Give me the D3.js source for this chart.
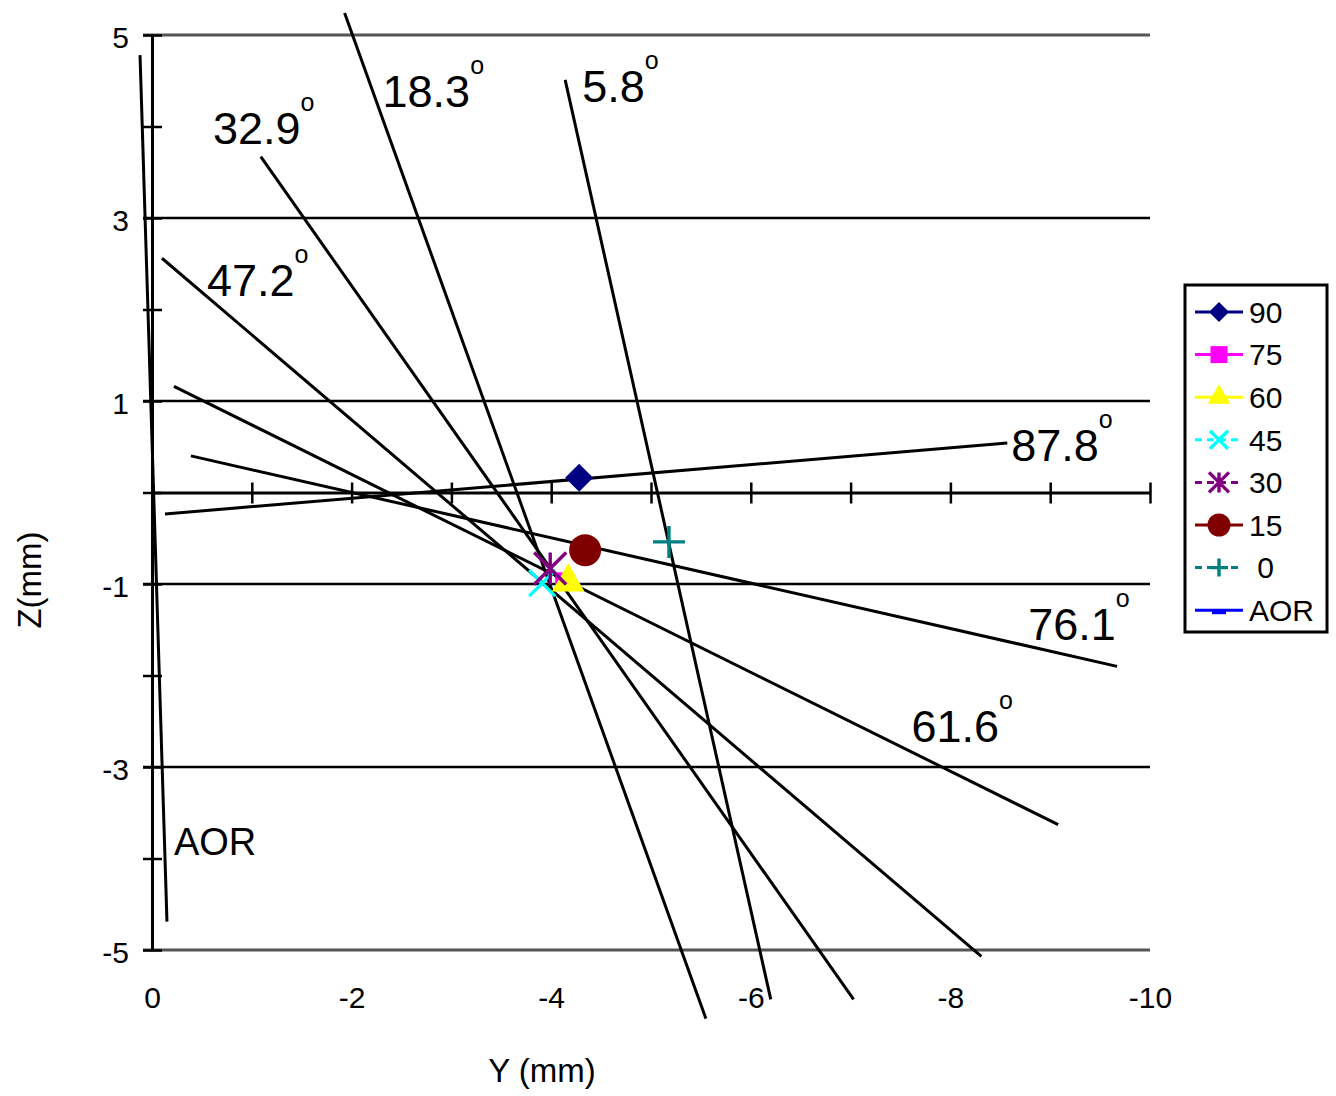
<!DOCTYPE html>
<html>
<head>
<meta charset="utf-8">
<script src="https://cdn.jsdelivr.net/npm/d3@7"></script>
<style>
  body { margin: 0; background: #fff; }
  svg { font-family: "Liberation Sans", Arial, sans-serif; }
</style>
</head>
<body>
<div id="chart"></div>
<script>
// Series shown in the legend (marker points)
let seriesNames = ["90", "75", "60", "45", "30", "15", " 0", "AOR"];
let seriesColors = ["#000080", "#ff00ff", "#ffff00", "#00ffff", "#800080", "#800000", "#008080", "#0000ff"];
let seriesShapes = ["diamond", "square", "triangle", "x", "star", "circle", "plus", "dash"];
let seriesDashed = [false, false, false, true, true, false, true, false];
let pointY = [-4.28, -4.12, -4.17, -3.91, -3.99, -4.34, -5.18, null];
let pointZ = [0.16, -0.96, -0.98, -0.99, -0.83, -0.63, -0.54, null];

// Fitted lines (start and end points, Y / Z in mm)
let lineNames = ["AOR", "87.8", "76.1", "61.6", "47.2", "32.9", "18.3", "5.8"];
let lineY0 = [0.12, -0.13, -0.39, -0.22, -0.10, -1.09, -1.93, -4.14];
let lineZ0 = [4.78, -0.235, 0.40, 1.16, 2.56, 3.67, 5.24, 4.51];
let lineY1 = [-0.15, -8.57, -9.67, -9.08, -8.31, -7.03, -5.55, -6.20];
let lineZ1 = [-4.69, 0.54, -1.90, -3.63, -5.07, -5.54, -5.75, -5.54];

// Where each line's label sits (start of text, baseline)
let labelY = [-0.22, -8.61, -8.78, -7.61, -0.55, -0.61, -2.31, -4.31];
let labelZ = [-3.96, 0.34, -1.61, -2.73, 2.15, 3.81, 4.21, 4.27];

// Axis ticks
let zTicks = [5, 4, 3, 2, 1, 0, -1, -2, -3, -4, -5];
let zMajor = [5, 3, 1, -1, -3, -5];
let yTicks = [0, -1, -2, -3, -4, -5, -6, -7, -8, -9, -10];
let yLabels = [0, -2, -4, -6, -8, -10];

let width = 1336, height = 1096;

let svg = d3.select("#chart").append("svg")
    .attr("width", width)
    .attr("height", height);

let x = d3.scaleLinear().domain([0, -10]).range([152, 1150]);
let y = d3.scaleLinear().domain([-5, 5]).range([950, 35]);

// plain hyphen for negative numbers, like the original
let plain = d => String(d);

// Horizontal gridlines
svg.append("g").selectAll("line")
    .data(zMajor)
    .enter().append("line")
    .attr("x1", x(0) - 9)
    .attr("x2", x(-10))
    .attr("y1", d => y(d))
    .attr("y2", d => y(d))
    .attr("stroke", d => Math.abs(d) === 5 ? "#555" : "#000")
    .attr("stroke-width", d => Math.abs(d) === 5 ? 3.2 : 2.6);

// Vertical axis (ticks cross the line)
let yAxis = svg.append("g")
    .attr("transform", "translate(" + x(0) + ",0)")
    .call(d3.axisLeft(y)
        .tickValues(zTicks)
        .tickSize(9)
        .tickSizeOuter(0)
        .tickPadding(14)
        .tickFormat(d => zMajor.includes(d) ? plain(d) : ""));
yAxis.select(".domain").attr("stroke-width", 3);
yAxis.selectAll(".tick line").attr("x1", 10).attr("stroke-width", 2.5);
yAxis.selectAll(".tick text")
    .attr("font-size", 30)
    .attr("dy", "0.4em")
    .attr("font-family", "Liberation Sans, Arial, sans-serif");

// Horizontal axis through Z = 0
let xAxis = svg.append("g")
    .attr("transform", "translate(0," + y(0) + ")")
    .call(d3.axisBottom(x)
        .tickValues(yTicks)
        .tickSize(11)
        .tickSizeOuter(0)
        .tickFormat(""));
xAxis.select(".domain").attr("stroke-width", 3);
xAxis.selectAll(".tick line").attr("y1", -10).attr("stroke-width", 2.5);

// Tick labels for Y sit below the plot
let xLabels = svg.append("g")
    .attr("transform", "translate(0," + y(-5) + ")")
    .call(d3.axisBottom(x)
        .tickValues(yLabels)
        .tickSize(0)
        .tickPadding(37)
        .tickFormat(plain));
xLabels.select(".domain").remove();
xLabels.selectAll(".tick text")
    .attr("font-size", 30)
    .attr("font-family", "Liberation Sans, Arial, sans-serif");

// Axis titles
svg.append("text")
    .attr("x", 542)
    .attr("y", 1082)
    .attr("text-anchor", "middle")
    .attr("font-size", 33)
    .text("Y (mm)");

svg.append("text")
    .attr("transform", "translate(41,580) rotate(-90)")
    .attr("text-anchor", "middle")
    .attr("font-size", 33)
    .text("Z(mm)");

// Fitted lines
let lineData = lineNames.map((name, i) => ({
    name: name, y0: lineY0[i], z0: lineZ0[i], y1: lineY1[i], z1: lineZ1[i],
    ly: labelY[i], lz: labelZ[i]
}));

svg.append("g").selectAll("line")
    .data(lineData)
    .enter().append("line")
    .attr("x1", d => x(d.y0))
    .attr("y1", d => y(d.z0))
    .attr("x2", d => x(d.y1))
    .attr("y2", d => y(d.z1))
    .attr("stroke", "#000")
    .attr("stroke-width", 3);

// Line labels with a raised degree mark
let labels = svg.append("g").selectAll("text")
    .data(lineData)
    .enter().append("text")
    .attr("x", d => x(d.ly))
    .attr("y", d => y(d.lz))
    .attr("font-size", d => d.name === "AOR" ? 38 : 45)
    .attr("fill", "#000");
labels.append("tspan").text(d => d.name);
labels.filter(d => d.name !== "AOR").append("tspan")
    .attr("font-size", 25)
    .attr("dx", 0)
    .attr("dy", -33)
    .text("o");

// Marker drawing helper
function drawMarker(g, shape, color, s) {
    if (shape === "diamond") {
        g.append("path")
            .attr("d", d3.symbol(d3.symbolSquare, s * s / 2)())
            .attr("transform", "rotate(45)")
            .attr("fill", color);
    } else if (shape === "square") {
        g.append("path")
            .attr("d", d3.symbol(d3.symbolSquare, s * s)())
            .attr("fill", color);
    } else if (shape === "triangle") {
        g.append("path")
            .attr("d", d3.symbol(d3.symbolTriangle, s * s * 0.45)())
            .attr("fill", color);
    } else if (shape === "circle") {
        g.append("path")
            .attr("d", d3.symbol(d3.symbolCircle, Math.PI * s * s / 4)())
            .attr("fill", color);
    } else if (shape === "x" || shape === "star" || shape === "plus") {
        let h = s / 2;
        let p = d3.path();
        if (shape !== "plus") {
            p.moveTo(-h, -h); p.lineTo(h, h);
            p.moveTo(-h, h); p.lineTo(h, -h);
        }
        if (shape !== "x") {
            p.moveTo(0, -h); p.lineTo(0, h);
        }
        if (shape === "plus") {
            p.moveTo(-h, 0); p.lineTo(h, 0);
        }
        g.append("path")
            .attr("d", p.toString())
            .attr("fill", "none")
            .attr("stroke", color)
            .attr("stroke-width", 3.4);
    } else if (shape === "dash") {
        g.append("rect")
            .attr("x", -7).attr("y", -1).attr("width", 14).attr("height", 5)
            .attr("fill", color);
    }
}

// Plot markers (bottom-most drawn first)
let plotSizes = [28, 16, 32, 26, 32, 32, 32, 0];
let order = [1, 3, 2, 4, 5, 0, 6];
let markers = svg.append("g");
order.forEach(function(i) {
    if (pointY[i] === null) return;
    let g = markers.append("g")
        .attr("transform", "translate(" + x(pointY[i]) + "," + y(pointZ[i]) + ")");
    drawMarker(g, seriesShapes[i], seriesColors[i], plotSizes[i]);
});

// Legend
let legend = svg.append("g");
legend.append("rect")
    .attr("x", 1185).attr("y", 285)
    .attr("width", 142).attr("height", 347)
    .attr("fill", "#fff")
    .attr("stroke", "#000")
    .attr("stroke-width", 3);

let legendSizes = [20, 17, 22, 18, 20, 23, 18, 0];
seriesNames.forEach(function(name, i) {
    let cy = 312 + i * 42.6;
    legend.append("line")
        .attr("x1", 1195).attr("x2", 1243)
        .attr("y1", cy).attr("y2", cy)
        .attr("stroke", seriesColors[i])
        .attr("stroke-width", 3)
        .attr("stroke-dasharray", seriesDashed[i] ? "7,5" : null);
    let g = legend.append("g").attr("transform", "translate(1219," + cy + ")");
    drawMarker(g, seriesShapes[i], seriesColors[i], legendSizes[i]);
    legend.append("text")
        .attr("x", 1249)
        .attr("y", cy)
        .attr("dy", "0.36em")
        .attr("font-size", 30)
        .style("white-space", "pre")
        .text(name);
});
</script>
</body>
</html>
